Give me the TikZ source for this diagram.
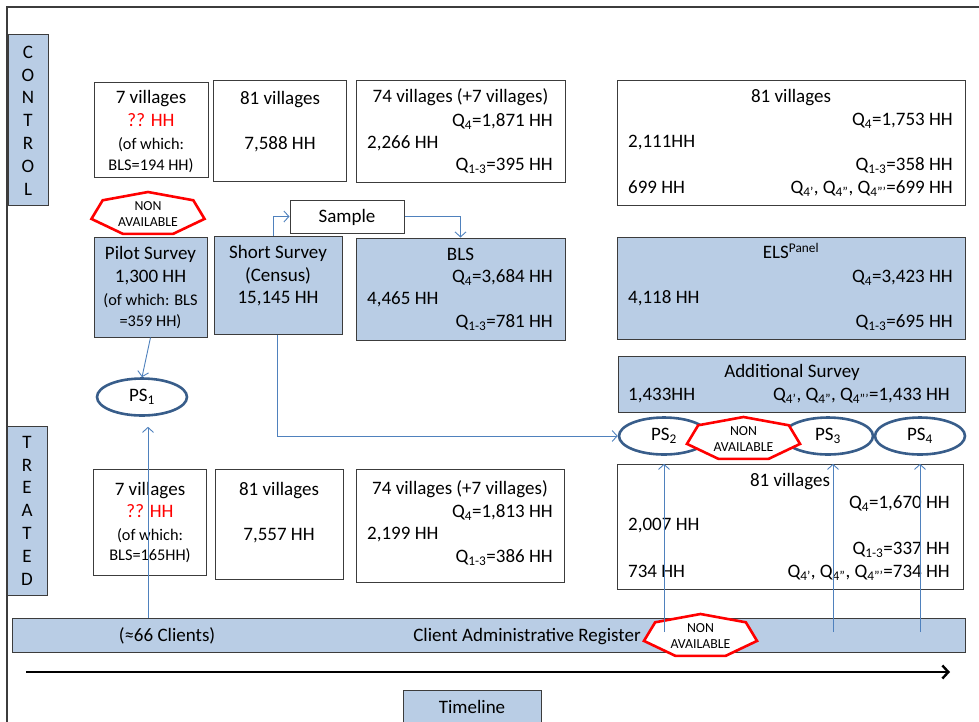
\documentclass[tikz,border=0pt]{standalone}
\usepackage{fontspec}
\setmainfont{Carlito}
\usetikzlibrary{shapes.geometric,arrows.meta,fit,positioning}

\definecolor{panelblue}{HTML}{B9CDE5}
\definecolor{edgegray}{HTML}{3C3C3C}
\definecolor{psblue}{HTML}{385D8A}
\definecolor{linkblue}{HTML}{4F81BD}
\definecolor{navred}{HTML}{FF0000}

\tikzset{
  wbox/.style={draw=edgegray, line width=1pt, fill=white, inner sep=0pt},
  bbox/.style={wbox, fill=panelblue},
  txt/.style={inner sep=0pt, font=\fontsize{19}{22}\selectfont, text height=1.2em, text depth=0.1em},
  small/.style={txt, font=\fontsize{16.3}{19}\selectfont},
  redtxt/.style={txt, text=navred},
  psnode/.style={ellipse, draw=psblue, line width=2.6pt, fill=white, minimum width=90pt, minimum height=37pt, inner sep=0pt, font=\fontsize{19}{22}\selectfont},
  link/.style={draw=linkblue, line width=0.9pt, -{Straight Barb[length=5pt,width=11pt]}},
  navtext/.style={align=center, inner sep=0pt, font=\fontsize{13.8}{16}\selectfont},
  navline/.style={draw=navred, line width=2.6pt, fill=white, line join=miter},
  sidetxt/.style={align=center, font=\fontsize{19}{22.8}\selectfont},
}

% red "non available" heptagon: name, x, y
\newcommand{\navsign}[3]{%
  \path[navline, shift={(#2,#3)}] (-90:58 and 22)
    \foreach \k in {1,...,6} { -- (-90+\k*51.4286:58 and 22) } -- cycle;
  \node[navtext] (#1) at (#2,#3) {NON\\AVAILABLE};
}

\begin{document}
\begin{tikzpicture}[x=1pt, y=-1pt]
\useasboundingbox (0,0) rectangle (979,721);

% The frame
\draw[edgegray, line width=1.2pt] (7,740) -- (7,7) -- (990,7);

% Side labels
\node[bbox, fit={(8,34) (48,205)}] (ctrl) {};
\node[sidetxt] at ([yshift=-1pt]ctrl.center) {C\\O\\N\\T\\R\\O\\L};
\node[bbox, fit={(7,426) (47,595)}] (treat) {};
\node[sidetxt] at (treat.center) {T\\R\\E\\A\\T\\E\\D};

% Control row
\node[wbox, fit={(94,82) (208,177)}] (c7) {};
\node[txt] at (151,98) {7 villages};
\node[redtxt] at (151,121) {?? HH};
\node[small] at (151,144) {(of which:};
\node[small] at (151,165) {BLS=194 HH)};

\node[wbox, fit={(213,80) (346,181)}] (c81) {};
\node[txt] at (280,99) {81 villages};
\node[txt] at (280,144) {7,588 HH};

\node[wbox, fit={(356,80) (565,182)}] (c74) {};
\node[txt] at (460.5,97) {74 villages (+7 villages)};
\node[txt, anchor=east] at (553,121) {Q\textsubscript{4}=1,871 HH};
\node[txt, anchor=west] at (367,143) {2,266 HH};
\node[txt, anchor=east] at (553,165) {Q\textsubscript{1-3}=395 HH};

\node[wbox, fit={(617,80) (965,205)}] (cend) {};
\node[txt] at (791,97) {81 villages};
\node[txt, anchor=east] at (953,120) {Q\textsubscript{4}=1,753 HH};
\node[txt, anchor=west] at (628,142) {2,111HH};
\node[txt, anchor=east] at (953,165) {Q\textsubscript{1-3}=358 HH};
\node[txt, anchor=west] at (628,188) {699 HH};
\node[txt, anchor=east] at (953,188) {Q\textsubscript{4'}, Q\textsubscript{4''}, Q\textsubscript{4'''}=699 HH};

% Surveys
\node[bbox, fit={(94,237) (207,337)}] (pilot) {};
\node[txt] at (150.5,254) {Pilot Survey};
\node[txt] at (150.5,277) {1,300 HH};
\node[small] at (150.5,300) {(of which: BLS};
\node[small] at (150.5,321) {=359 HH)};

\node[bbox, fit={(214,236) (342,334)}] (short) {};
\node[txt] at (278,253) {Short Survey};
\node[txt] at (278,276) {(Census)};
\node[txt] at (278,298) {15,145 HH};

\node[wbox, txt, minimum width=114pt, minimum height=33pt] (sample) at (347,216.5) {Sample};

\node[bbox, fit={(356,238) (565,340)}] (bls) {};
\node[txt] at (460.5,255) {BLS};
\node[txt, anchor=east] at (553,277) {Q\textsubscript{4}=3,684 HH};
\node[txt, anchor=west] at (367,299) {4,465 HH};
\node[txt, anchor=east] at (553,322) {Q\textsubscript{1-3}=781 HH};

\node[bbox, fit={(617,237) (965,339)}] (els) {};
\node[txt] at (791,253) {ELS\textsuperscript{Panel}};
\node[txt, anchor=east] at (953,277) {Q\textsubscript{4}=3,423 HH};
\node[txt, anchor=west] at (628,298) {4,118 HH};
\node[txt, anchor=east] at (953,322) {Q\textsubscript{1-3}=695 HH};

\node[bbox, fit={(618,356) (965,412)}] (add) {};
\node[txt] at (792,372) {Additional Survey};
\node[txt, anchor=west] at (628,395) {1,433HH};
\node[txt, anchor=east] at (950,395) {Q\textsubscript{4'}, Q\textsubscript{4''}, Q\textsubscript{4'''}=1,433 HH};

% Treated row
\node[wbox, fit={(93,469) (206,575)}] (t7) {};
\node[txt] at (150,490) {7 villages};
\node[redtxt] at (150,512) {?? HH};
\node[small] at (150,535) {(of which:};
\node[small] at (150,555) {BLS=165HH)};

\node[wbox, fit={(215,469) (343,579)}] (t81) {};
\node[txt] at (279,490) {81 villages};
\node[txt] at (279,535) {7,557 HH};

\node[wbox, fit={(356,469) (564,582)}] (t74) {};
\node[txt] at (460,489) {74 villages (+7 villages)};
\node[txt, anchor=east] at (553,512) {Q\textsubscript{4}=1,813 HH};
\node[txt, anchor=west] at (367,534) {2,199 HH};
\node[txt, anchor=east] at (553,557) {Q\textsubscript{1-3}=386 HH};

\node[wbox, fit={(617,464) (963,589)}] (tend) {};
\node[txt] at (790,481) {81 villages};
\node[txt, anchor=east] at (950,503) {Q\textsubscript{4}=1,670 HH};
\node[txt, anchor=west] at (628,525) {2,007 HH};
\node[txt, anchor=east] at (950,549) {Q\textsubscript{1-3}=337 HH};
\node[txt, anchor=west] at (628,572) {734 HH};
\node[txt, anchor=east] at (950,572) {Q\textsubscript{4'}, Q\textsubscript{4''}, Q\textsubscript{4'''}=734 HH};

% Register
\node[bbox, fit={(12,618) (965,652)}] (reg) {};
\node[txt] at (167,636) {(≈66 Clients)};
\node[txt] at (527,636) {Client Administrative Register};

% PS ellipses
\node[psnode] (ps1) at (142,397) {PS\textsubscript{1}};
\node[psnode] (ps2) at (664,436) {PS\textsubscript{2}};
\node[psnode] (ps3) at (828,436) {PS\textsubscript{3}};
\node[psnode] (ps4) at (920,436) {PS\textsubscript{4}};

% Non available
\navsign{nav1}{148}{214}
\navsign{nav2}{743.5}{439}
\navsign{nav3}{700.5}{636}

% Links
\draw[link] ([xshift=-5pt]short.north) |- (sample.west);
\draw[link] (sample.east) -| (bls.north);
\draw[link] ([xshift=-1pt]short.south) |- (ps2.west);
\draw[link] (pilot.south) -- (ps1.north);
\draw[link] ([xshift=6pt]ps1.south |- reg.north) -- ([xshift=6pt, yshift=-10pt]ps1.south);
\foreach \p/\dx in {ps2/0, ps3/5, ps4/0}
  \draw[link] ([xshift=\dx pt]\p.south |- 0,632) -- ([xshift=\dx pt, yshift=-8pt]\p.south);

% Timeline
\coordinate (tl0) at (26,672);
\coordinate (tl1) at (950,672);
\draw[line width=2.4pt, -{Straight Barb[length=6pt,width=13pt]}] (tl0) -- (tl1);
\node[bbox, fit={(403,690) (541,735)}] (tlbox) {};
\node[txt] at (472,708) {Timeline};

\end{tikzpicture}
\end{document}
